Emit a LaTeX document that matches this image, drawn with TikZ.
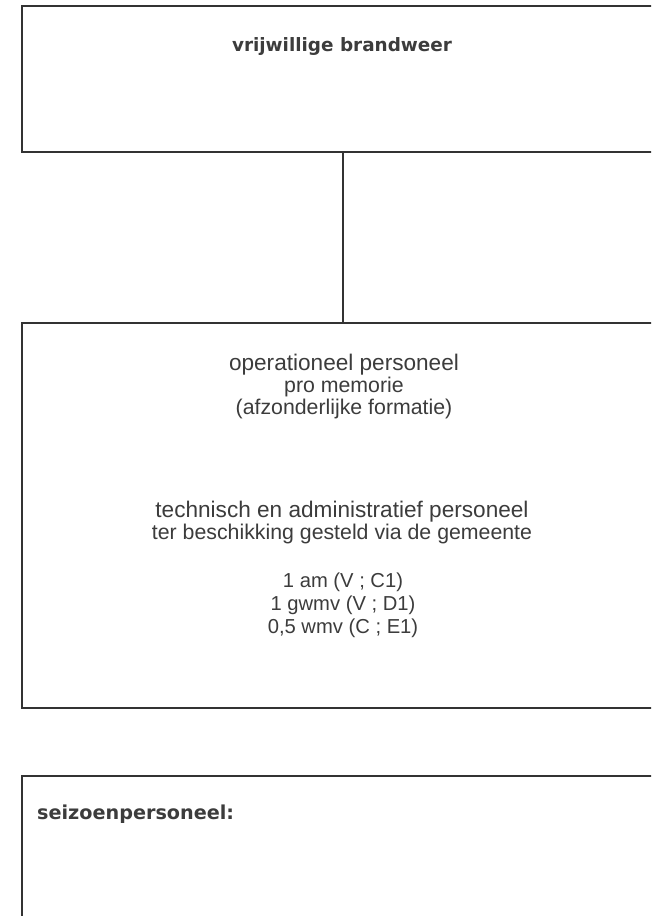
\documentclass[tikz,border=0pt]{standalone}
\usepackage{fontspec}
\setmainfont{Liberation Sans}
\newfontfamily\djv{DejaVu Sans}
\definecolor{linegray}{HTML}{333333}
\definecolor{textgray}{HTML}{3C3C3C}
\tikzset{
  boxstyle/.style={draw=linegray, line width=1.6pt, rectangle, inner sep=0pt, minimum width=642pt, anchor=north west},
  conn/.style={draw=linegray, line width=1.6pt},
  lbl/.style={text=textgray, inner sep=0pt, anchor=base},
  boldlbl/.style={lbl, font=\djv\bfseries\fontsize{18.4}{22}\selectfont},
  big/.style={lbl, font=\fontsize{22.6}{26}\selectfont},
  mid/.style={lbl, font=\fontsize{21.3}{25}\selectfont},
  small/.style={lbl, font=\fontsize{20.2}{24}\selectfont}
}
\begin{document}
\begin{tikzpicture}[x=1pt,y=-1pt]
\clip (0,0) rectangle (651,916);
\fill[white] (0,0) rectangle (651,916);
\node[boxstyle, minimum height=146pt] (top) at (21,5) {};
\node[boxstyle, minimum height=385pt] (ops) at (21,322) {};
\node[boxstyle, minimum height=220pt] (season) at (21,775) {};
\draw[conn] (top.south) -- (ops.north);
\node[boldlbl] (t1) at (342,51) {vrijwillige brandweer};
\node[big] (o1) at (344,370) {operationeel personeel};
\node[mid] (o2) at (344,392.5) {pro memorie};
\node[mid] (o3) at (344,414.5) {(afzonderlijke formatie)};
\node[big] (a1) at (342,517) {technisch en administratief personeel};
\node[mid] (a2) at (342,539) {ter beschikking gesteld via de gemeente};
\node[small] (n1) at (343,587) {1 am (V ; C1)};
\node[small] (n2) at (343,610) {1 gwmv (V ; D1)};
\node[small] (n3) at (343,633) {0,5 wmv (C ; E1)};
\node[boldlbl, anchor=base west, font=\djv\bfseries\fontsize{19.2}{22}\selectfont] (s1) at (37,819) {seizoenpersoneel:};
\end{tikzpicture}
\end{document}
